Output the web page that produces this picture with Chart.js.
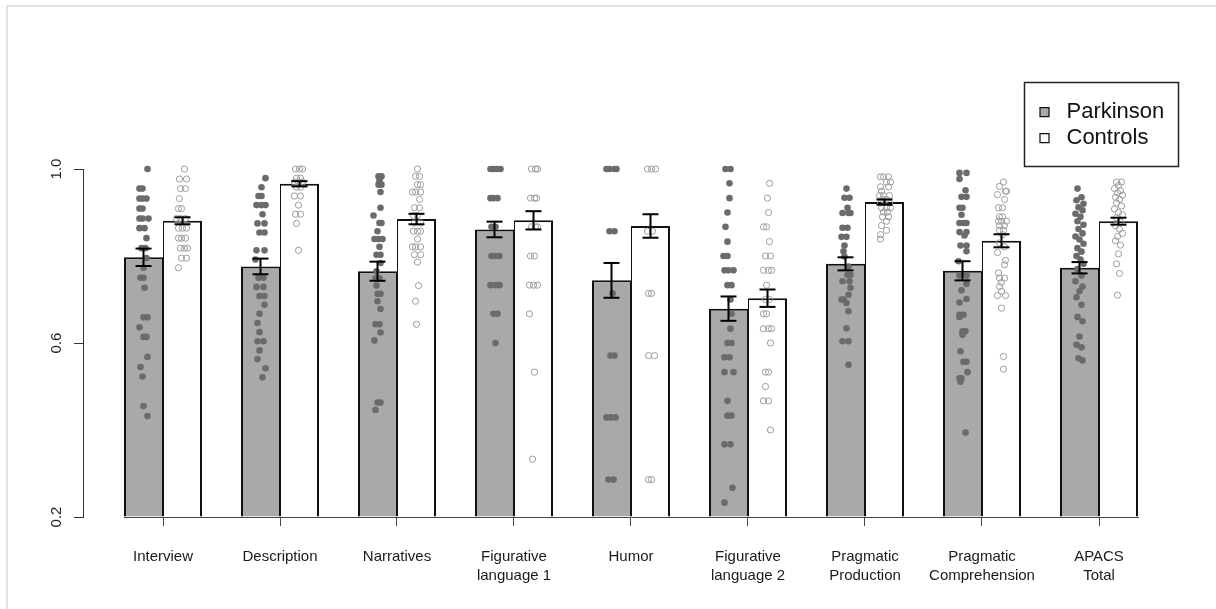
<!DOCTYPE html>
<html>
<head>
<meta charset="utf-8">
<script src="https://cdn.jsdelivr.net/npm/chart.js@4.4.1/dist/chart.umd.min.js"></script>
<style>
  html, body { margin: 0; padding: 0; background: #ffffff; }
  #wrap { position: relative; width: 1216px; height: 609px; overflow: hidden; }
  #frame { position: absolute; left: 6px; top: 5px; width: 1300px; height: 700px;
           border-left: 2px solid #e2e2e2; border-top: 2px solid #e2e2e2; pointer-events: none; }
</style>
</head>
<body>
<div id="wrap">
  <canvas id="c" width="1216" height="609"></canvas>
  <div id="frame"></div>
</div>
<script>
// ---------------- data ----------------
const categories = ["Interview", "Description", "Narratives", "Figurative language 1", "Humor",
                    "Figurative language 2", "Pragmatic Production", "Pragmatic Comprehension", "APACS Total"];
const categoryLines = [["Interview"], ["Description"], ["Narratives"], ["Figurative", "language 1"], ["Humor"],
                       ["Figurative", "language 2"], ["Pragmatic", "Production"], ["Pragmatic", "Comprehension"], ["APACS", "Total"]];
const yTicks = [0.2, 0.6, 1.0];

const parkinsonMeans = [0.797, 0.776, 0.765, 0.861, 0.744, 0.679, 0.782, 0.766, 0.773];
const parkinsonSE    = [0.020, 0.018, 0.022, 0.018, 0.040, 0.028, 0.015, 0.022, 0.013];
const controlMeans   = [0.881, 0.966, 0.885, 0.882, 0.869, 0.703, 0.924, 0.835, 0.880];
const controlSE      = [0.008, 0.006, 0.012, 0.021, 0.027, 0.020, 0.006, 0.015, 0.008];

// individual scores: [score, horizontal jitter]
const parkinsonPoints = [
  [[1.000,4],[0.955,-4],[0.955,-1],[0.932,-4],[0.932,-1],[0.932,3],[0.909,-4],[0.909,-1],[0.886,-4],[0.886,-1],[0.886,5],[0.864,-4],[0.864,1],[0.841,3],[0.818,-2],[0.818,2],[0.795,3],[0.773,0],[0.750,-3],[0.750,0],[0.727,1],[0.659,0],[0.659,4],[0.636,-4],[0.614,0],[0.614,3],[0.568,4],[0.545,-3],[0.523,-1],[0.455,0],[0.432,4]],
  [[0.979,5],[0.958,1],[0.938,-2],[0.938,1],[0.917,-4],[0.917,1],[0.917,5],[0.896,2],[0.875,-3],[0.875,4],[0.854,-1],[0.854,4],[0.813,-4],[0.813,4],[0.792,-5],[0.750,-2],[0.750,3],[0.729,-4],[0.729,3],[0.708,-1],[0.708,4],[0.688,4],[0.667,-1],[0.646,-3],[0.625,-1],[0.604,-3],[0.604,3],[0.583,-1],[0.563,-3],[0.542,5],[0.521,2]],
  [[0.983,1],[0.983,4],[0.974,2],[0.964,1],[0.964,4],[0.947,3],[0.911,3],[0.893,-4],[0.876,2],[0.876,4],[0.857,0],[0.839,-3],[0.839,1],[0.839,5],[0.821,2],[0.803,-1],[0.803,3],[0.784,3],[0.765,-1],[0.749,-2],[0.749,2],[0.732,-1],[0.713,0],[0.713,3],[0.696,0],[0.678,3],[0.643,-2],[0.643,2],[0.624,3],[0.606,-3],[0.463,0],[0.463,3],[0.446,-2]],
  [[1.000,-4],[1.000,-1],[1.000,2],[1.000,6],[0.933,-4],[0.933,-1],[0.933,3],[0.867,-3],[0.867,1],[0.800,-3],[0.800,1],[0.800,5],[0.733,-4],[0.733,1],[0.733,5],[0.667,-1],[0.667,3],[0.600,1]],
  [[1.000,-5],[1.000,-2],[1.000,3],[1.000,5],[0.857,-2],[0.857,3],[0.714,1],[0.571,-1],[0.571,3],[0.429,-5],[0.429,-1],[0.429,4],[0.286,-3],[0.286,2]],
  [[1.000,-3],[1.000,2],[0.967,1],[0.933,1],[0.900,-1],[0.867,-3],[0.833,-1],[0.800,-5],[0.800,-1],[0.767,-4],[0.767,0],[0.767,5],[0.733,-1],[0.733,3],[0.700,2],[0.667,3],[0.633,2],[0.600,-1],[0.600,3],[0.567,-4],[0.567,1],[0.533,-4],[0.533,5],[0.467,-1],[0.433,-1],[0.433,3],[0.367,-4],[0.367,2],[0.267,4],[0.233,-4]],
  [[0.955,1],[0.934,-1],[0.934,4],[0.911,2],[0.899,-3],[0.899,3],[0.899,5],[0.865,-3],[0.865,2],[0.844,-4],[0.844,1],[0.824,-1],[0.811,-2],[0.799,-1],[0.776,3],[0.757,2],[0.757,5],[0.742,-3],[0.742,4],[0.727,5],[0.711,3],[0.700,-4],[0.700,-2],[0.692,1],[0.673,3],[0.634,1],[0.604,-3],[0.604,3],[0.550,3]],
  [[0.991,-3],[0.991,4],[0.977,-3],[0.951,3],[0.936,-1],[0.936,4],[0.911,-3],[0.911,0],[0.895,-1],[0.876,-3],[0.876,1],[0.876,4],[0.855,-3],[0.855,4],[0.847,2],[0.824,-2],[0.824,4],[0.811,4],[0.788,-4],[0.755,-3],[0.755,4],[0.736,4],[0.721,-1],[0.701,4],[0.693,-3],[0.665,-3],[0.665,1],[0.660,-3],[0.627,0],[0.627,3],[0.619,0],[0.581,-2],[0.557,1],[0.557,4],[0.533,5],[0.519,-3],[0.519,-1],[0.511,-2],[0.394,3]],
  [[0.955,-2],[0.935,2],[0.928,-3],[0.920,4],[0.912,-1],[0.905,3],[0.897,-4],[0.890,1],[0.880,-2],[0.872,4],[0.862,-1],[0.852,3],[0.845,-4],[0.838,0],[0.828,4],[0.818,-2],[0.810,2],[0.800,-3],[0.792,1],[0.782,4],[0.770,-2],[0.755,2],[0.742,-4],[0.730,3],[0.719,0],[0.705,-3],[0.688,2],[0.660,-2],[0.650,3],[0.615,0],[0.596,-3],[0.590,2],[0.565,-1],[0.560,3]]
];
const controlPoints = [
  [[1.000,2],[0.977,-3],[0.977,4],[0.955,-2],[0.955,3],[0.932,-3],[0.909,-4],[0.909,-1],[0.886,-6],[0.886,-2],[0.886,3],[0.864,-4],[0.864,0],[0.864,4],[0.841,-4],[0.841,-1],[0.841,3],[0.818,-2],[0.818,2],[0.818,5],[0.795,-1],[0.795,4],[0.773,-4]],
  [[1.000,-4],[1.000,0],[1.000,3],[0.979,-3],[0.979,1],[0.970,-5],[0.970,-1],[0.970,3],[0.958,-3],[0.958,1],[0.938,-5],[0.938,1],[0.917,-1],[0.896,-4],[0.896,1],[0.875,-3],[0.813,-1]],
  [[1.000,1],[0.983,-1],[0.983,3],[0.964,1],[0.964,4],[0.947,-4],[0.947,-1],[0.947,4],[0.930,3],[0.911,-2],[0.911,3],[0.893,-3],[0.893,1],[0.876,-2],[0.876,4],[0.857,-3],[0.857,1],[0.857,4],[0.839,1],[0.821,-4],[0.821,-1],[0.821,4],[0.803,-2],[0.803,4],[0.786,1],[0.732,2],[0.696,-1],[0.643,0]],
  [[1.000,-2],[1.000,2],[1.000,4],[0.933,-3],[0.933,1],[0.933,3],[0.867,-2],[0.867,2],[0.867,4],[0.800,-3],[0.800,1],[0.733,-4],[0.733,0],[0.733,4],[0.667,-4],[0.533,1],[0.333,-1]],
  [[1.000,-3],[1.000,1],[1.000,5],[0.857,-3],[0.857,2],[0.714,-2],[0.714,1],[0.571,-2],[0.571,4],[0.286,-2],[0.286,1]],
  [[0.967,2],[0.933,0],[0.900,1],[0.867,-4],[0.867,-1],[0.833,2],[0.800,-2],[0.800,3],[0.767,-4],[0.767,1],[0.767,4],[0.733,-1],[0.700,-2],[0.700,2],[0.667,-4],[0.667,-1],[0.633,-4],[0.633,1],[0.633,4],[0.600,3],[0.533,-2],[0.533,1],[0.500,-2],[0.467,-4],[0.467,1],[0.400,3]],
  [[0.982,-4],[0.982,-1],[0.982,4],[0.970,2],[0.970,6],[0.959,-4],[0.959,4],[0.949,-3],[0.939,-5],[0.939,-1],[0.939,5],[0.930,-2],[0.930,2],[0.922,-4],[0.922,5],[0.911,-3],[0.911,2],[0.911,6],[0.901,-1],[0.901,3],[0.890,-2],[0.890,4],[0.880,2],[0.870,-3],[0.859,2],[0.849,-4],[0.839,-4]],
  [[0.970,2],[0.960,-2],[0.949,4],[0.949,5],[0.941,-4],[0.930,3],[0.911,-3],[0.911,1],[0.890,-2],[0.890,1],[0.880,-3],[0.880,0],[0.880,5],[0.870,-2],[0.870,3],[0.859,-2],[0.859,2],[0.849,1],[0.830,-2],[0.821,3],[0.808,-4],[0.790,4],[0.780,3],[0.761,-3],[0.749,-2],[0.749,3],[0.739,0],[0.730,-2],[0.719,0],[0.709,-4],[0.709,4],[0.680,0],[0.569,2],[0.540,2]],
  [[0.970,-2],[0.970,3],[0.962,0],[0.955,-4],[0.950,2],[0.945,-1],[0.940,4],[0.935,-3],[0.930,1],[0.922,-2],[0.915,3],[0.908,-4],[0.900,0],[0.895,4],[0.888,-2],[0.878,2],[0.870,-3],[0.862,1],[0.852,4],[0.845,-1],[0.835,-3],[0.825,2],[0.805,0],[0.782,-2],[0.760,1],[0.710,-1]]
];

// ---------------- layout / style constants ----------------
const CAT_PCT = 2 / 3;                  // two bars fill 2/3 of each group slot
const BAR_OFFSET = CAT_PCT / 4;         // centre of each bar relative to group centre
const JITTER_UNIT = 1 / 117;            // jitter values are in pixels of a 117px group slot
const FONT = "'Liberation Sans', Arial, Helvetica, sans-serif";

Chart.defaults.font.family = FONT;
Chart.defaults.color = '#1a1a1a';

function barData(means) { return means.map((v, i) => ({ x: i + 1, y: v })); }
function pointData(groups, side) {
  const out = [];
  groups.forEach((g, i) => g.forEach(([v, dx]) => out.push({ x: i + 1 + side * BAR_OFFSET + dx * JITTER_UNIT, y: v })));
  return out;
}
function errData() {
  const out = [];
  categories.forEach((c, i) => {
    [[-1, parkinsonMeans, parkinsonSE], [1, controlMeans, controlSE]].forEach(([side, m, se]) => {
      const x = i + 1 + side * BAR_OFFSET;
      out.push({ x, y: m[i] - se[i] }, { x, y: m[i] + se[i] }, { x, y: null });
    });
  });
  return out;
}

const legendPlacement = {
  id: 'legendPlacement',
  afterLayout(chart) {
    const lg = chart.legend;
    if (!lg) return;
    const h = lg.height;
    lg.left = 1029.5; lg.right = lg.left + lg.width;
    lg.top = 97; lg.bottom = lg.top + Math.max(h, 120);
  },
  afterDraw(chart) {
    const lg = chart.legend;
    const ctx = chart.ctx;
    ctx.save();
    ctx.strokeStyle = '#222';
    ctx.lineWidth = 1.5;
    ctx.strokeRect(lg.left - 5, lg.top - 14.5, 154, 84);
    ctx.restore();
  }
};

new Chart(document.getElementById('c'), {
  type: 'bar',
  data: {
    datasets: [
      {
        type: 'bar', label: 'Parkinson', data: barData(parkinsonMeans),
        backgroundColor: '#a9a9a9', borderColor: '#111',
        borderWidth: { top: 2, left: 2, right: 1, bottom: 0 }, borderSkipped: false,
        base: 0.2, categoryPercentage: CAT_PCT, barPercentage: 1, clip: false, order: 3,
        xAxisID: 'x', yAxisID: 'y'
      },
      {
        type: 'bar', label: 'Controls', data: barData(controlMeans),
        backgroundColor: '#ffffff', borderColor: '#111',
        borderWidth: { top: 2, left: 1, right: 2, bottom: 0 }, borderSkipped: false,
        base: 0.2, categoryPercentage: CAT_PCT, barPercentage: 1, clip: false, order: 3,
        xAxisID: 'x', yAxisID: 'y'
      },
      {
        type: 'scatter', label: 'Parkinson scores', data: pointData(parkinsonPoints, -1),
        pointRadius: 3.3, pointBackgroundColor: '#6b6b6b', pointBorderWidth: 0,
        clip: false, order: 1, xAxisID: 'x', yAxisID: 'y'
      },
      {
        type: 'scatter', label: 'Control scores', data: pointData(controlPoints, 1),
        pointRadius: 3.1, pointBackgroundColor: 'rgba(255,255,255,0)', pointBorderColor: '#9c9c9c',
        pointBorderWidth: 1, clip: false, order: 1, xAxisID: 'x', yAxisID: 'y'
      },
      {
        type: 'line', label: 'SE', data: errData(),
        borderColor: '#000', borderWidth: 2, spanGaps: false, fill: false,
        pointStyle: 'line', pointRadius: 8, pointBorderWidth: 2, pointBorderColor: '#000',
        clip: false, order: 0, xAxisID: 'x', yAxisID: 'y'
      }
    ]
  },
  options: {
    responsive: false,
    animation: false,
    devicePixelRatio: 1,
    events: [],
    layout: { padding: { top: 169, right: 78, left: 0, bottom: 0 } },
    plugins: {
      tooltip: { enabled: false },
      legend: {
        position: 'chartArea', align: 'start',
        labels: {
          usePointStyle: true, pointStyle: 'rect', boxWidth: 22, boxHeight: 9, padding: 4,
          font: { size: 22, family: FONT }, color: '#111',
          filter: (item, data) => data.datasets[item.datasetIndex].type === 'bar'
        }
      }
    },
    scales: {
      y: {
        type: 'linear', position: 'left', weight: 1, min: 0.2, max: 1.0,
        afterBuildTicks: s => { s.ticks = yTicks.map(v => ({ value: v })); },
        afterFit: s => { s.width = 83; },
        ticks: { minRotation: 90, maxRotation: 90, crossAlign: 'center', padding: 7,
                 font: { size: 15 }, color: '#222', callback: v => Number(v).toFixed(1) },
        grid: { drawOnChartArea: false, drawTicks: true, tickLength: 9, color: '#333', lineWidth: 1 },
        border: { display: true, color: '#333', width: 1 }
      },
      yGap: {
        type: 'linear', position: 'left', weight: 0, display: true, min: 0, max: 1,
        afterFit: s => { s.width = 41; },
        ticks: { display: false }, grid: { display: false }, border: { display: false }
      },
      x: {
        type: 'linear', position: 'bottom', offset: false,
        min: 1 - CAT_PCT / 2, max: categories.length + CAT_PCT / 2,
        afterBuildTicks: s => { s.ticks = categories.map((c, i) => ({ value: i + 1 })); },
        afterFit: s => { s.height = 92; },
        ticks: { autoSkip: false, minRotation: 0, maxRotation: 0, padding: 21,
                 font: { size: 15, lineHeight: 1.27 }, color: '#1a1a1a',
                 callback: v => categoryLines[Math.round(v) - 1] },
        grid: { offset: false, drawOnChartArea: false, drawTicks: true, tickLength: 9, color: '#444', lineWidth: 1 },
        border: { display: true, color: '#444', width: 1 }
      }
    }
  },
  plugins: [legendPlacement]
});
</script>
</body>
</html>
